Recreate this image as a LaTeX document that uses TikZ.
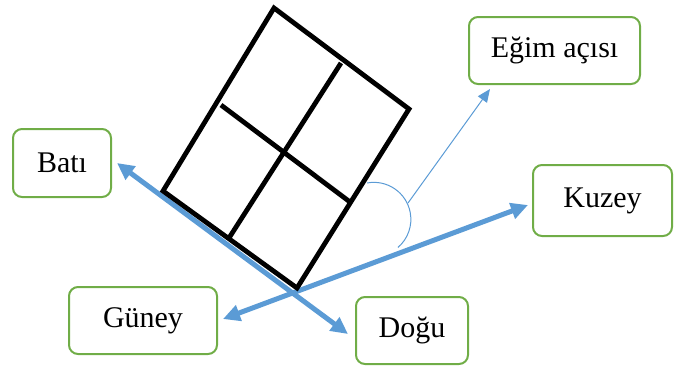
\documentclass[tikz,border=0pt]{standalone}
\usepackage{fontspec}
\setmainfont{Liberation Serif}
\usetikzlibrary{arrows.meta}
\definecolor{boxgreen}{HTML}{70AD47}
\definecolor{axblue}{HTML}{5B9BD5}
\begin{document}
\begin{tikzpicture}[x=1pt,y=-1pt,
  lbl/.style={draw=boxgreen, line width=2pt, rounded corners=9pt, font=\fontsize{30}{36}\selectfont, inner sep=0pt},
  axis/.style={draw=axblue, line width=5pt, {Triangle[length=17pt,width=16pt]}-{Triangle[length=17pt,width=16pt]}},
  thin/.style={draw=axblue, line width=1pt},
  panel/.style={draw=black, line width=4.8pt, line join=miter}]
\useasboundingbox (0,0) rectangle (674,368);
% label boxes
\node[lbl, minimum width=98pt, minimum height=68pt] (bati) at (62,163) {Batı};
\node[lbl, minimum width=171pt, minimum height=67pt] (egim) at (554.5,50.5) {Eğim açısı};
\node[lbl, minimum width=139pt, minimum height=71pt] (kuzey) at (602.5,200.5) {Kuzey};
\node[lbl, minimum width=148pt, minimum height=67pt] (guney) at (143,320.5) {Güney};
\node[lbl, minimum width=112pt, minimum height=67pt] (dogu) at (412,330.5) {Doğu};
% arrow end points
\coordinate (batiTip) at (117,163);
\coordinate (doguTip) at (348,334);
\coordinate (guneyTip) at (223,319);
\coordinate (kuzeyTip) at (528,205);
\coordinate (angStart) at (408,203);
\coordinate (egimTip) at (490,89);
% panel corners and grid points
\coordinate (pT) at (274,8);
\coordinate (pR) at (409,109);
\coordinate (pB) at (297,288);
\coordinate (pL) at (163,191);
\coordinate (mTL) at (221,105);
\coordinate (mRB) at (350,202);
\coordinate (mTR) at (341,63);
\coordinate (mLB) at (229,238);
% axes
\draw[axis] (batiTip) -- (doguTip);
\draw[axis] (guneyTip) -- (kuzeyTip);
% panel
\draw[panel] (pT) -- (pR) -- (pB) -- (pL) -- cycle;
\draw[panel] (mTL) -- (mRB);
\draw[panel] (mTR) -- (mLB);
% angle arc and pointer
\draw[thin] (367,183) arc[start angle=-100.7, end angle=49.4, radius=37];
\draw[thin, -{Triangle[length=13pt,width=11pt]}] (angStart) -- (egimTip);
\end{tikzpicture}
\end{document}
